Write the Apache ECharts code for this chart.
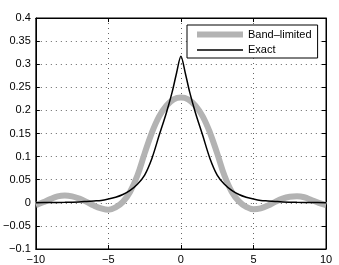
<!DOCTYPE html>
<html>
<head>
<meta charset="utf-8">
<script src="https://cdn.jsdelivr.net/npm/echarts@6/dist/echarts.min.js"></script>
<style>html,body{margin:0;padding:0;background:#fff;}#c{width:339px;height:265px;}</style>
</head>
<body>
<div id="c"></div>
<script>
var seriesNames = ['Band–limited', 'Exact'];
var xTicks = [-10, -5, 0, 5, 10];
var yTicks = [-0.1, -0.05, 0, 0.05, 0.1, 0.15, 0.2, 0.25, 0.3, 0.35, 0.4];

var bandX = [-10,-9.5,-9,-8.5,-8,-7.5,-7,-6.5,-6,-5.5,-5,-4.5,-4,-3.5,-3,-2.5,-2,-1.5,-1,-0.5,0,0.5,1,1.5,2,2.5,3,3.5,4,4.5,5,5.5,6,6.5,7,7.5,8,8.5,9,9.5,10];
var bandY = [-0.005,0.001,0.008,0.014,0.016,0.014,0.009,0.002,-0.006,-0.012,-0.015,-0.01,0.002,0.024,0.059,0.107,0.152,0.187,0.21,0.224,0.228,0.224,0.21,0.187,0.152,0.107,0.059,0.024,0.003,-0.009,-0.014,-0.012,-0.006,0.002,0.009,0.013,0.014,0.012,0.006,0.0,-0.005];

var exactX = [-10,-9,-8,-7,-6.5,-6,-5.5,-5,-4.5,-4,-3.5,-3,-2.5,-2,-1.5,-1,-0.6,-0.3,0,0.3,0.6,1,1.5,2,2.5,3,3.5,4,4.5,5,5.5,6,6.5,7,8,9,10];
var exactY = [0.0003,0.0005,0.001,0.002,0.003,0.004,0.005,0.008,0.012,0.018,0.027,0.04,0.06,0.096,0.146,0.195,0.24,0.281,0.317,0.281,0.24,0.195,0.146,0.096,0.06,0.04,0.027,0.018,0.012,0.008,0.005,0.004,0.003,0.002,0.001,0.0005,0.0003];

function pairs(xs, ys){ return xs.map(function(x,i){ return [x, ys[i]]; }); }
function fmt(v){ var s = String(parseFloat(v.toFixed(3))); return s.replace('-', '−'); }

var font = 'Liberation Sans, Arial, Helvetica, sans-serif';
var split = { show: true, lineStyle: { color: '#666', width: 1, type: [1, 4] } };
var thickIcon = 'path://M0,0H0.01V0.01H0Z M0,3H46V9H0Z M45.99,11.99H46V12H45.99Z';
var thinIcon = 'path://M0,0H0.01V0.01H0Z M0,5.25H46V6.75H0Z M45.99,11.99H46V12H45.99Z';

var chart = echarts.init(document.getElementById('c'), null, { renderer: 'canvas' });
chart.setOption({
  animation: false,
  backgroundColor: '#fff',
  grid: { left: 33, right: 13, top: 18, bottom: 16, show: true, borderColor: '#000', borderWidth: 1, backgroundColor: 'transparent' },
  legend: {
    data: [
      { name: seriesNames[0], icon: thickIcon, itemStyle: { color: '#b3b3b3' } },
      { name: seriesNames[1], icon: thinIcon, itemStyle: { color: '#000' } }
    ],
    left: 187, top: 25,
    orient: 'vertical',
    itemWidth: 46, itemHeight: 12, itemGap: 3.5,
    padding: [3.5, 6, 2, 10],
    borderColor: '#000', borderWidth: 1, backgroundColor: '#fff',
    textStyle: { fontFamily: font, fontSize: 11, color: '#000' }
  },
  xAxis: [{
    type: 'value', min: xTicks[0], max: xTicks[xTicks.length-1], interval: 5,
    axisLine: { show: true, onZero: false, lineStyle: { color: '#000' } },
    axisTick: { show: true, inside: true, length: 4, lineStyle: { color: '#000' } },
    axisLabel: { fontFamily: font, fontSize: 11, color: '#000', margin: 5, formatter: fmt },
    splitLine: split
  }, {
    type: 'value', position: 'top', min: xTicks[0], max: xTicks[xTicks.length-1], interval: 5,
    axisLine: { show: true, onZero: false, lineStyle: { color: '#000' } },
    axisTick: { show: true, inside: true, length: 4, lineStyle: { color: '#000' } },
    axisLabel: { show: false }, splitLine: { show: false }
  }],
  yAxis: [{
    type: 'value', min: yTicks[0], max: yTicks[yTicks.length-1], interval: 0.05,
    axisLine: { show: true, onZero: false, lineStyle: { color: '#000' } },
    axisTick: { show: true, inside: true, length: 4, lineStyle: { color: '#000' } },
    axisLabel: { fontFamily: font, fontSize: 11, color: '#000', margin: 5, formatter: fmt },
    splitLine: split
  }, {
    type: 'value', position: 'right', min: yTicks[0], max: yTicks[yTicks.length-1], interval: 0.05,
    axisLine: { show: true, onZero: false, lineStyle: { color: '#000' } },
    axisTick: { show: true, inside: true, length: 4, lineStyle: { color: '#000' } },
    axisLabel: { show: false }, splitLine: { show: false }
  }],
  series: [{
    name: seriesNames[0], type: 'line', data: pairs(bandX, bandY),
    showSymbol: false, symbol: 'none', smooth: 0.4,
    lineStyle: { color: '#b3b3b3', width: 6 }, itemStyle: { color: '#b3b3b3' }, z: 2
  }, {
    name: seriesNames[1], type: 'line', data: pairs(exactX, exactY),
    showSymbol: false, symbol: 'none', smooth: 0.3,
    lineStyle: { color: '#000', width: 1.5 }, itemStyle: { color: '#000' }, z: 3
  }]
});
</script>
</body>
</html>
